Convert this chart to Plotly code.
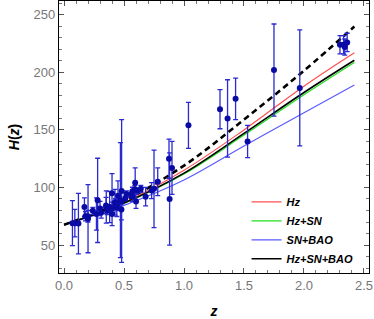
import plotly.graph_objects as go

# Observational H(z) data
z_obs = [0.07, 0.09, 0.12, 0.17, 0.179, 0.199, 0.2, 0.27, 0.28, 0.352, 0.3802, 0.4, 0.4004,
         0.4247, 0.4497, 0.47, 0.4783, 0.48, 0.593, 0.68, 0.75, 0.781, 0.875, 0.88, 0.9,
         1.037, 1.3, 1.363, 1.43, 1.53, 1.75, 1.965,
         0.24, 0.35, 0.43, 0.44, 0.57, 0.6, 0.73, 0.3, 0.31, 0.36, 0.38, 0.40, 0.43, 0.44,
         0.48, 0.51, 0.52, 0.56, 0.57, 0.59, 0.61, 0.64, 2.3, 2.33, 2.34, 2.36]
H_obs = [69, 69, 68.6, 83, 75, 75, 72.9, 77, 88.8, 83, 83, 95, 77,
         87.1, 92.8, 89, 80.9, 97, 104, 92, 98.8, 105, 125, 90, 117,
         154, 168, 160, 177, 140, 202, 186.5,
         79.69, 84.4, 86.45, 82.6, 92.4, 87.9, 97.3, 81.7, 78.18, 79.93, 81.5, 82.04, 86.45, 84.81,
         87.79, 90.4, 94.35, 93.33, 96.8, 98.48, 97.3, 98.82, 224, 224, 222, 226]
sig_obs = [19.6, 12, 26.2, 8, 4, 5, 29.6, 14, 36.6, 14, 13.5, 17, 10.2,
           11.2, 12.9, 50, 9, 62, 13, 8, 33.6, 12, 17, 40, 23,
           20, 17, 33.6, 18, 14, 40, 50.4,
           2.99, 7, 3.68, 7.8, 4.5, 6.1, 7, 6.22, 4.74, 3.39, 1.9, 2.03, 3.97, 1.83,
           2.03, 1.9, 2.64, 2.32, 3.4, 3.18, 2.1, 2.98, 8, 8, 7, 8]

# Model curves
z_model = [0.0, 0.5, 1.0, 1.5, 2.0, 2.42]
H_hz = [67.6, 87.0, 115.0, 150.0, 188.0, 217.0]
H_hz_sn = [67.6, 86.2, 111.7, 145.5, 180.5, 208.5]
H_sn_bao = [67.6, 84.5, 106.5, 136.0, 165.0, 189.0]
H_all = [67.6, 86.5, 112.5, 147.0, 182.5, 210.5]
H_dashed = [67.6, 88.5, 119.0, 159.0, 201.5, 239.8]

x_ticks = [0, 0.5, 1.0, 1.5, 2.0, 2.5]
x_ticklabels = ["0.0", "0.5", "1.0", "1.5", "2.0", "2.5"]
y_ticks = [50, 100, 150, 200, 250]

FONT = "Liberation Sans, Arial, sans-serif"

fig = go.Figure()

fig.add_trace(go.Scatter(x=z_model, y=H_hz, mode="lines", name="<b><i>Hz</i></b>",
                         line=dict(color="#ff5050", width=1.2, shape="spline")))
fig.add_trace(go.Scatter(x=z_model, y=H_hz_sn, mode="lines", name="<b><i>Hz+SN</i></b>",
                         line=dict(color="#20e020", width=1.2, shape="spline")))
fig.add_trace(go.Scatter(x=z_model, y=H_sn_bao, mode="lines", name="<b><i>SN+BAO</i></b>",
                         line=dict(color="#5a5aff", width=1.2, shape="spline")))
fig.add_trace(go.Scatter(x=z_model, y=H_all, mode="lines", name="<b><i>Hz+SN+BAO</i></b>",
                         line=dict(color="black", width=1.6, shape="spline")))
fig.add_trace(go.Scatter(x=z_model, y=H_dashed, mode="lines", showlegend=False,
                         line=dict(color="black", width=2.6, dash="6px,4px", shape="spline")))

fig.add_trace(go.Scatter(x=z_obs, y=H_obs, mode="markers", showlegend=False,
                         marker=dict(color="#0a0aa5", size=6),
                         error_y=dict(type="data", array=sig_obs, visible=True,
                                      color="#2a2ad0", thickness=1.3, width=2.5)))

axis_common = dict(showline=True, linecolor="black", linewidth=1.2, mirror="allticks",
                   ticks="inside", ticklen=5, tickcolor="#555", showgrid=False, zeroline=False,
                   automargin=False,
                   tickfont=dict(family=FONT, size=13, color="#777"))

fig.update_xaxes(range=[-0.042, 2.542], tickvals=x_ticks, ticktext=x_ticklabels,
                 minor=dict(dtick=0.1, tick0=0, ticks="inside", ticklen=3, tickcolor="#777"),
                 title=dict(text="<b><i>z</i></b>", standoff=14,
                            font=dict(family=FONT, size=14, color="black")),
                 **axis_common)
fig.update_yaxes(range=[25.7, 262], tickvals=y_ticks,
                 minor=dict(dtick=10, tick0=0, ticks="inside", ticklen=3, tickcolor="#777"),
                 title=dict(text="<b><i>H</i>(<i>z</i>)</b>", standoff=10,
                            font=dict(family=FONT, size=14, color="black")),
                 **axis_common)

fig.update_layout(
    width=374, height=319,
    margin=dict(l=59, r=5, t=1, b=46),
    plot_bgcolor="white", paper_bgcolor="white",
    legend=dict(x=0.605, y=0.315, xanchor="left", yanchor="top",
                bgcolor="rgba(0,0,0,0)", tracegroupgap=0,
                font=dict(family=FONT, size=11, color="black"),
                itemwidth=30),
)

fig.write_html("out.html", config={"displayModeBar": False},
               post_script="document.body.style.margin='0px';")
